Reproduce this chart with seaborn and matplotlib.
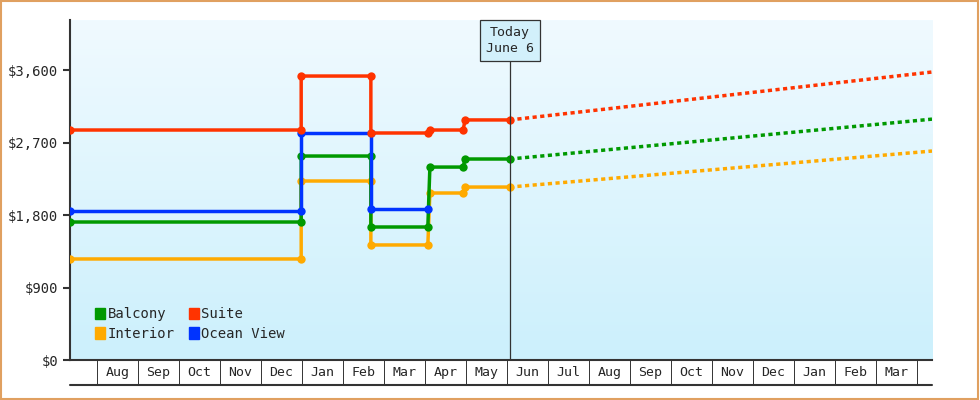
import matplotlib
matplotlib.use("Agg")
import matplotlib.pyplot as plt
import seaborn as sns
import numpy as np
import pandas as pd
from matplotlib.patches import Rectangle

sns.set_style("white")
plt.rcParams['font.family'] = ['DejaVu Sans Mono']

# x in months from Jul 1 (Aug=1 ... )
suite_x = [0.34, 5.98, 5.98, 7.68, 7.68, 9.07, 9.12, 9.93, 9.98, 11.07]
suite_y = [2855, 2855, 3525, 3525, 2818, 2818, 2855, 2855, 2980, 2980]
ocean_x = [0.34, 5.98, 5.98, 7.68, 7.68, 9.07]
ocean_y = [1850, 1850, 2818, 2818, 1875, 1875]
balc_x = [0.34, 5.98, 5.98, 7.68, 7.68, 9.07, 9.12, 9.93, 9.98, 11.07]
balc_y = [1713, 1713, 2532, 2532, 1651, 1651, 2395, 2395, 2495, 2495]
int_x = [0.34, 5.98, 5.98, 7.68, 7.68, 9.07, 9.12, 9.93, 9.98, 11.07]
int_y = [1254, 1254, 2222, 2222, 1428, 1428, 2073, 2073, 2147, 2147]
fc_x = [11.07, 21.37]
fc_suite = [2980, 3575]
fc_balc = [2495, 2990]
fc_int = [2147, 2594]
months = ["Aug","Sep","Oct","Nov","Dec","Jan","Feb","Mar","Apr","May","Jun","Jul",
          "Aug","Sep","Oct","Nov","Dec","Jan","Feb","Mar"]
yticks = [0, 900, 1800, 2700, 3600]
ylabels = ["$0", "$900", "$1,800", "$2,700", "$3,600"]

colors = {"Balcony": "#009900", "Suite": "#ff3300", "Interior": "#ffaa00", "Ocean View": "#0033ff"}

fig = plt.figure(figsize=(9.8, 4), dpi=100)
fig.patch.set_facecolor("white")
fig.add_artist(Rectangle((0.001, 0.002), 0.997, 0.995, transform=fig.transFigure,
                         fill=False, edgecolor="#e0a060", lw=1.5))
ax = fig.add_axes([70/980, 40/400, 862/980, 340/400])
xmin, xmax = 0.34, 21.37
ymin, ymax = 0, 3600 * 340 / 290
ax.imshow(np.linspace(0, 1, 256).reshape(-1, 1), origin="upper",
          cmap=matplotlib.colors.LinearSegmentedColormap.from_list("g", ["#f0faff", "#ccf0fc"]),
          extent=[xmin, xmax, ymin, ymax], aspect="auto", zorder=0)

for name, xs, ys in [("Interior", int_x, int_y), ("Balcony", balc_x, balc_y),
                     ("Ocean View", ocean_x, ocean_y), ("Suite", suite_x, suite_y)]:
    sns.lineplot(x=xs, y=ys, sort=False, estimator=None, color=colors[name], lw=2.5,
                 marker="o", markersize=6, markeredgewidth=0, ax=ax, zorder=3)
for name, ys in [("Suite", fc_suite), ("Balcony", fc_balc), ("Interior", fc_int)]:
    sns.lineplot(x=fc_x, y=ys, color=colors[name], lw=2.5, ls=(0, (1.2, 1)), ax=ax, zorder=3)

ax.set_xlim(xmin, xmax)
ax.set_ylim(ymin, ymax)
ax.set_yticks(yticks)
ax.set_yticklabels(ylabels, fontsize=10)
ax.set_xticks([])
for s in ["top", "right"]:
    ax.spines[s].set_visible(False)
for s in ["left", "bottom"]:
    ax.spines[s].set_color("#333333")
    ax.spines[s].set_linewidth(1.5)
ax.tick_params(axis="y", length=5, width=1.5, color="#333333", left=True)

# today line and box
today = 11.07
ax.plot([today, today], [ymin, 3720], color="#333333", lw=0.9, zorder=4)
ax.text(today, 3970, "Today\nJune 6", ha="center", va="center", fontsize=9.5, zorder=5,
        linespacing=1.3,
        bbox=dict(boxstyle="square,pad=0.45", fc="#d2f0fb", ec="#333333", lw=0.9))

# month cells below axis
trans = ax.get_xaxis_transform()
cell_h = -25 / 340
for i, m in enumerate(months):
    ax.text(i + 1.5, cell_h / 2, m, ha="center", va="center", fontsize=9.5, transform=trans)
for b in range(1, 22):
    ax.plot([b, b], [0, cell_h], color="#333333", lw=0.7, transform=trans, clip_on=False)
ax.plot([xmin, xmax], [cell_h, cell_h], color="#333333", lw=1.5, transform=trans, clip_on=False)

handles = [Rectangle((0, 0), 1, 1, color=colors[n]) for n in ["Balcony", "Interior", "Suite", "Ocean View"]]
ax.legend(handles, ["Balcony", "Interior", "Suite", "Ocean View"], ncol=2, loc="lower left",
          bbox_to_anchor=(0.015, 0.02), frameon=False, fontsize=10, handlelength=0.7,
          handleheight=0.9, handletextpad=0.2, columnspacing=1.0, labelspacing=0.4)

fig.savefig("out.png", dpi=100)
